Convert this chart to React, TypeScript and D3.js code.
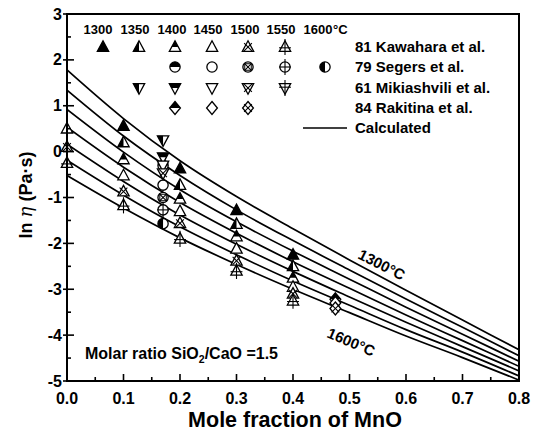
import React from 'react';
import * as d3 from 'd3';

// ---------- data ----------
const xGrid = [0, 0.1, 0.2, 0.3, 0.4, 0.5, 0.6, 0.7, 0.8];
const calc1300 = [1.78, 0.72, -0.2, -0.98, -1.68, -2.36, -3.02, -3.67, -4.32];
const calc1350 = [1.34, 0.34, -0.52, -1.27, -1.94, -2.58, -3.21, -3.83, -4.45];
const calc1400 = [0.92, -0.01, -0.83, -1.53, -2.17, -2.78, -3.39, -3.98, -4.57];
const calc1450 = [0.53, -0.34, -1.11, -1.78, -2.4, -2.98, -3.56, -4.12, -4.68];
const calc1500 = [0.16, -0.65, -1.38, -2.02, -2.61, -3.17, -3.72, -4.25, -4.78];
const calc1550 = [-0.19, -0.95, -1.64, -2.25, -2.82, -3.35, -3.88, -4.37, -4.89];
const calc1600 = [-0.52, -1.23, -1.88, -2.46, -3.0, -3.51, -4.02, -4.49, -4.98];
const calcCurves = [calc1300, calc1350, calc1400, calc1450, calc1500, calc1550, calc1600];

const tempLabels = ['1300', '1350', '1400', '1450', '1500', '1550', '1600'];

// Kawahara et al. (triangles up)
const kawahara1300: [number, number][] = [[0.1, 0.56], [0.2, -0.37], [0.3, -1.28], [0.4, -2.25]];
const kawahara1350: [number, number][] = [[0.1, 0.2], [0.2, -0.73], [0.3, -1.58], [0.4, -2.5]];
const kawahara1400: [number, number][] = [[0.1, -0.17], [0.2, -1.03], [0.3, -1.85], [0.4, -2.75]];
const kawahara1450: [number, number][] = [[0, 0.5], [0.1, -0.52], [0.2, -1.3], [0.3, -2.12], [0.4, -2.95]];
const kawahara1500: [number, number][] = [[0, 0.1], [0.1, -0.87], [0.2, -1.56], [0.3, -2.38], [0.4, -3.1]];
const kawahara1550: [number, number][] = [[0, -0.25], [0.1, -1.17], [0.2, -1.9], [0.3, -2.6], [0.4, -3.25]];
// Segers et al. (circles)
const segers1400: [number, number][] = [[0.17, -0.3]];
const segers1450: [number, number][] = [[0.17, -0.73]];
const segers1500: [number, number][] = [[0.17, -1.0]];
const segers1550: [number, number][] = [[0.17, -1.27]];
const segers1600: [number, number][] = [[0.17, -1.57]];
// Mikiashvili et al. (triangles down)
const mikia1350: [number, number][] = [[0.17, 0.25]];
const mikia1400: [number, number][] = [[0.17, -0.12]];
const mikia1450: [number, number][] = [[0.17, -0.3]];
const mikia1500: [number, number][] = [[0.17, -0.47]];
// Rakitina et al. (diamonds)
const rakitina1400: [number, number][] = [[0.475, -3.22]];
const rakitina1450: [number, number][] = [[0.475, -3.3]];
const rakitina1500: [number, number][] = [[0.475, -3.42]];

const xTicks = [0, 0.1, 0.2, 0.3, 0.4, 0.5, 0.6, 0.7, 0.8];
const yTicks = [-5, -4, -3, -2, -1, 0, 1, 2, 3];

type Shape = 'up' | 'down' | 'circle' | 'diamond';
type Fill = 'full' | 'open' | 'left' | 'top' | 'cross' | 'plus' | 'box';

const series: { shape: Shape; fill: Fill; pts: [number, number][] }[] = [
  { shape: 'up', fill: 'full', pts: kawahara1300 },
  { shape: 'up', fill: 'left', pts: kawahara1350 },
  { shape: 'up', fill: 'top', pts: kawahara1400 },
  { shape: 'up', fill: 'open', pts: kawahara1450 },
  { shape: 'up', fill: 'cross', pts: kawahara1500 },
  { shape: 'up', fill: 'plus', pts: kawahara1550 },
  { shape: 'circle', fill: 'top', pts: segers1400 },
  { shape: 'circle', fill: 'open', pts: segers1450 },
  { shape: 'circle', fill: 'box', pts: segers1500 },
  { shape: 'circle', fill: 'plus', pts: segers1550 },
  { shape: 'circle', fill: 'left', pts: segers1600 },
  { shape: 'down', fill: 'left', pts: mikia1350 },
  { shape: 'down', fill: 'top', pts: mikia1400 },
  { shape: 'down', fill: 'open', pts: mikia1450 },
  { shape: 'down', fill: 'cross', pts: mikia1500 },
  { shape: 'diamond', fill: 'top', pts: rakitina1400 },
  { shape: 'diamond', fill: 'open', pts: rakitina1450 },
  { shape: 'diamond', fill: 'cross', pts: rakitina1500 },
];

const legendRows: { label: string; shape: Shape; items: [number, Fill][] }[] = [
  { label: '81 Kawahara et al.', shape: 'up', items: [[0, 'full'], [1, 'left'], [2, 'top'], [3, 'open'], [4, 'cross'], [5, 'plus']] },
  { label: '79 Segers et al.', shape: 'circle', items: [[2, 'top'], [3, 'open'], [4, 'box'], [5, 'plus'], [6, 'left']] },
  { label: '61 Mikiashvili et al.', shape: 'down', items: [[1, 'left'], [2, 'top'], [3, 'open'], [4, 'cross'], [5, 'plus']] },
  { label: '84 Rakitina et al.', shape: 'diamond', items: [[2, 'top'], [3, 'open'], [4, 'cross']] },
];

// ---------- layout ----------
const W = 536, H = 431;
const L = 67, R = 519, T = 14, B = 381;
const FONT = '"Liberation Sans", Arial, sans-serif';

const x = d3.scaleLinear().domain([0, 0.8]).range([L, R]);
const y = d3.scaleLinear().domain([-5, 3]).range([B, T]);

const r = 5.4;
function shapePath(s: Shape): string {
  if (s === 'up') return `M0,${-r * 1.15}L${r * 1.05},${r * 0.8}L${-r * 1.05},${r * 0.8}Z`;
  if (s === 'down') return `M0,${r * 1.15}L${r * 1.05},${-r * 0.8}L${-r * 1.05},${-r * 0.8}Z`;
  if (s === 'diamond') return `M0,${-r * 1.2}L${r},0L0,${r * 1.2}L${-r},0Z`;
  const c = r * 0.95;
  return `M${-c},0A${c},${c} 0 1,0 ${c},0A${c},${c} 0 1,0 ${-c},0Z`;
}

function Marker({ cx, cy, shape, fill }: { cx: number; cy: number; shape: Shape; fill: Fill }) {
  const d = shapePath(shape);
  const k = r * 0.6;
  const hy = shape === 'circle' ? 0 : shape === 'up' ? r * 0.15 : -r * 0.15;
  return (
    <g transform={`translate(${cx},${cy})`}>
      <path d={d} fill={fill === 'full' ? '#000' : '#fff'} stroke="#000" strokeWidth={1.3} />
      {fill === 'left' && <path d={d} fill="#000" clipPath="url(#clipLeft)" />}
      {fill === 'top' && <path d={d} fill="#000" clipPath="url(#clipTop)" />}
      {(fill === 'cross' || fill === 'box') && (
        <g stroke="#000" strokeWidth={1.1}>
          <line x1={-k * 1.2} y1={-k * 1.2} x2={k * 1.2} y2={k * 1.2} />
          <line x1={-k * 1.2} y1={k * 1.2} x2={k * 1.2} y2={-k * 1.2} />
        </g>
      )}
      {fill === 'box' && <rect x={-k} y={-k} width={2 * k} height={2 * k} fill="none" stroke="#000" strokeWidth={1} />}
      {fill === 'plus' && (
        <g stroke="#000" strokeWidth={1.1}>
          <line x1={0} y1={-r * 1.5} x2={0} y2={r * 1.5} />
          <line x1={-r * 1.1} y1={hy} x2={r * 1.1} y2={hy} />
        </g>
      )}
    </g>
  );
}

export default function App() {
  const line = d3
    .line<number>()
    .x((_, i) => x(xGrid[i]))
    .y((v) => y(v))
    .curve(d3.curveMonotoneX);

  const xMinor = d3.range(0.05, 0.8, 0.1);
  const yMinor = d3.range(-4.5, 3, 1);
  const legX = [103, 139, 175, 212, 248, 285, 325];
  const legHeadX = [98, 135, 172, 208, 245, 281, 318];
  const rowY = [47, 67, 88, 108];

  return (
    <svg width={W} height={H} style={{ position: 'absolute', left: 0, top: 0, background: '#fff' }} fontFamily={FONT}>
      <defs>
        <clipPath id="clipLeft">
          <rect x={-20} y={-20} width={20} height={40} />
        </clipPath>
        <clipPath id="clipTop">
          <rect x={-20} y={-20} width={40} height={20} />
        </clipPath>
        <clipPath id="plotClip">
          <rect x={L} y={T} width={R - L} height={B - T} />
        </clipPath>
      </defs>
      <rect width={W} height={H} fill="#fff" />

      {/* curves */}
      <g clipPath="url(#plotClip)" fill="none" stroke="#000" strokeWidth={1.7}>
        {calcCurves.map((c, i) => (
          <path key={i} d={line(c) || ''} />
        ))}
      </g>

      {/* data points */}
      {series.map((s, i) =>
        s.pts.map((p, j) => <Marker key={`${i}-${j}`} cx={x(p[0])} cy={y(p[1])} shape={s.shape} fill={s.fill} />)
      )}

      {/* frame */}
      <rect x={L} y={T} width={R - L} height={B - T} fill="none" stroke="#000" strokeWidth={2} />

      {/* ticks */}
      <g stroke="#000" strokeWidth={1.6}>
        {xTicks.map((t) => (
          <line key={t} x1={x(t)} x2={x(t)} y1={B} y2={B - 7} />
        ))}
        {xMinor.map((t) => (
          <line key={t} x1={x(t)} x2={x(t)} y1={B} y2={B - 4} />
        ))}
        {yTicks.map((t) => (
          <line key={t} x1={L - 4} x2={L + 7} y1={y(t)} y2={y(t)} />
        ))}
        {yMinor.map((t) => (
          <line key={t} x1={L} x2={L + 4} y1={y(t)} y2={y(t)} />
        ))}
      </g>
      <g fontSize={16} fontWeight="bold" fill="#000">
        {xTicks.map((t) => (
          <text key={t} x={x(t)} y={404} textAnchor="middle">
            {t.toFixed(1)}
          </text>
        ))}
        {yTicks.map((t) => (
          <text key={t} x={L - 5} y={y(t) + 5.5} textAnchor="end">
            {t}
          </text>
        ))}
      </g>
      <text x={295} y={427} textAnchor="middle" fontSize={21.5} fontWeight="bold">
        Mole fraction of MnO
      </text>
      <text transform="translate(32,195) rotate(-90)" textAnchor="middle" fontSize={18} fontWeight="bold">
        ln <tspan fontStyle="italic" fontWeight="normal" fontFamily='"DejaVu Serif", serif'>η</tspan> (Pa·s)
      </text>

      {/* legend header */}
      <g fontSize={13} fontWeight="bold">
        {tempLabels.map((t, i) => (
          <text key={t} x={legHeadX[i]} y={34} textAnchor="middle">
            {t}
          </text>
        ))}
        <text x={legHeadX[6] + 15} y={34}>
          °C
        </text>
      </g>
      {legendRows.map((row, ri) => (
        <g key={ri}>
          {row.items.map(([ti, f]) => (
            <Marker key={ti} cx={legX[ti]} cy={rowY[ri]} shape={row.shape} fill={f} />
          ))}
          <text x={355} y={rowY[ri] + 5} fontSize={15} fontWeight="bold">
            {row.label}
          </text>
        </g>
      ))}
      <line x1={303} x2={347} y1={128} y2={128} stroke="#000" strokeWidth={1.7} />
      <text x={355} y={133} fontSize={15} fontWeight="bold">
        Calculated
      </text>

      {/* curve labels */}
      <text transform="translate(357,258) rotate(27)" fontSize={15} fontWeight="bold">
        1300°C
      </text>
      <text transform="translate(326,337) rotate(23)" fontSize={15} fontWeight="bold">
        1600°C
      </text>

      <text x={85} y={359} fontSize={16} fontWeight="bold">
        Molar ratio SiO<tspan fontSize={10.5} dy={4}>2</tspan>
        <tspan dy={-4}>/CaO =1.5</tspan>
      </text>
    </svg>
  );
}
